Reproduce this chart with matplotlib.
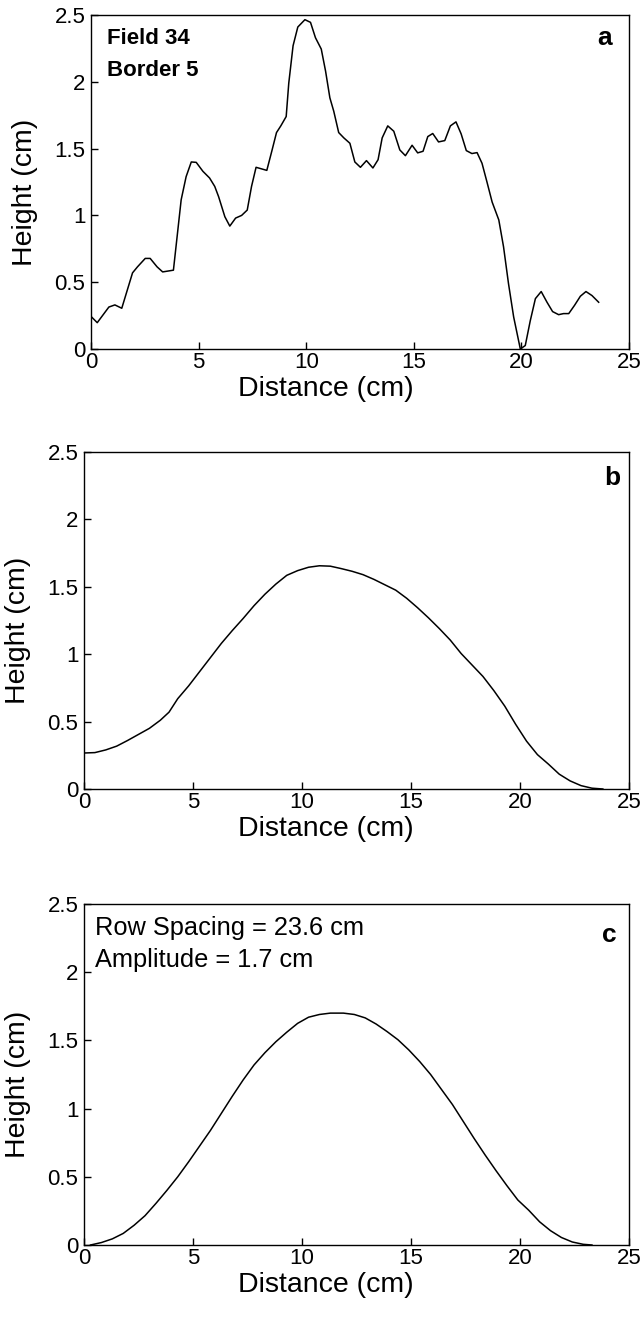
import matplotlib
matplotlib.use("Agg")
import matplotlib.pyplot as plt

plt.rcParams['font.family'] = ['Liberation Sans', 'DejaVu Sans']

# panel a: measured profile, Field 34, Border 5
dist_a = [0.0, 0.29, 0.83, 1.11, 1.43, 1.93, 2.16, 2.52, 2.75, 3.07, 3.33, 3.83,
          4.19, 4.42, 4.66, 4.89, 5.2, 5.51, 5.75, 5.93, 6.22, 6.45, 6.72, 7.0,
          7.26, 7.46, 7.67, 8.17, 8.4, 8.62, 8.82, 9.07, 9.19, 9.39, 9.61, 9.94,
          10.2, 10.43, 10.7, 10.9, 11.1, 11.28, 11.51, 11.75, 12.03, 12.26, 12.52,
          12.8, 13.1, 13.34, 13.53, 13.79, 14.07, 14.35, 14.61, 14.92, 15.18, 15.43,
          15.65, 15.88, 16.15, 16.44, 16.7, 16.96, 17.2, 17.44, 17.7, 17.94, 18.17,
          18.4, 18.64, 18.95, 19.17, 19.4, 19.64, 19.95, 20.18, 20.41, 20.65, 20.92,
          21.19, 21.45, 21.73, 21.96, 22.2, 22.47, 22.74, 23.0, 23.28, 23.59]
height_a = [0.244, 0.197, 0.314, 0.33, 0.305, 0.57, 0.615, 0.678, 0.678, 0.615, 0.577, 0.59,
            1.117, 1.29, 1.40, 1.397, 1.33, 1.28, 1.217, 1.14, 0.99, 0.92, 0.98, 1.0,
            1.04, 1.217, 1.36, 1.337, 1.48, 1.62, 1.67, 1.74, 1.99, 2.27, 2.41, 2.465,
            2.445, 2.33, 2.245, 2.08, 1.88, 1.78, 1.62, 1.58, 1.54, 1.40, 1.36,
            1.41, 1.355, 1.417, 1.58, 1.67, 1.63, 1.49, 1.447, 1.525, 1.468, 1.48,
            1.59, 1.613, 1.55, 1.56, 1.67, 1.70, 1.61, 1.485, 1.463, 1.47, 1.39,
            1.25, 1.10, 0.966, 0.765, 0.49, 0.24, 0.0, 0.026, 0.21, 0.377, 0.43,
            0.35, 0.28, 0.257, 0.265, 0.265, 0.327, 0.395, 0.43, 0.40, 0.35]

# panel b: smoothed profile
dist_b = [0.0, 0.5, 1.0, 1.5, 2.0, 2.5, 3.0, 3.5, 3.9, 4.3, 4.8, 5.3, 5.8, 6.3, 6.8,
          7.3, 7.8, 8.3, 8.8, 9.3, 9.8, 10.3, 10.8, 11.3, 11.8, 12.3, 12.8, 13.3,
          13.8, 14.3, 14.8, 15.3, 15.8, 16.3, 16.8, 17.3, 17.8, 18.3, 18.8, 19.3,
          19.8, 20.3, 20.8, 21.3, 21.8, 22.3, 22.8, 23.3, 23.8]
height_b = [0.267, 0.27, 0.29, 0.318, 0.36, 0.405, 0.45, 0.51, 0.57, 0.67, 0.765, 0.87,
            0.975, 1.08, 1.175, 1.265, 1.36, 1.445, 1.52, 1.585, 1.62, 1.645, 1.656,
            1.653, 1.635, 1.615, 1.59, 1.555, 1.515, 1.475, 1.415, 1.345, 1.27, 1.19,
            1.105, 1.005, 0.92, 0.835, 0.73, 0.615, 0.48, 0.355, 0.255, 0.185, 0.11,
            0.06, 0.025, 0.006, 0.0]

# panel c: fitted profile
dist_c = [0.3, 0.8, 1.3, 1.8, 2.3, 2.8, 3.3, 3.8, 4.3, 4.8, 5.3, 5.8, 6.3, 6.8, 7.3,
          7.8, 8.3, 8.8, 9.3, 9.8, 10.3, 10.8, 11.3, 11.9, 12.4, 12.9, 13.4, 13.9,
          14.4, 14.9, 15.4, 15.9, 16.4, 16.9, 17.4, 17.9, 18.4, 18.9, 19.4, 19.9,
          20.4, 20.9, 21.4, 21.9, 22.4, 22.9, 23.3]
height_c = [0.0, 0.018, 0.045, 0.085, 0.145, 0.215, 0.305, 0.40, 0.50, 0.61, 0.725,
            0.84, 0.965, 1.09, 1.21, 1.32, 1.41, 1.49, 1.56, 1.625, 1.67, 1.69, 1.70,
            1.70, 1.69, 1.665, 1.62, 1.565, 1.505, 1.43, 1.345, 1.25, 1.14, 1.03,
            0.905, 0.78, 0.66, 0.545, 0.435, 0.33, 0.255, 0.17, 0.105, 0.055, 0.022,
            0.005, 0.0]

x_ticks = [0, 5, 10, 15, 20, 25]
y_ticks = [0, 0.5, 1, 1.5, 2, 2.5]
y_tick_labels = ['0', '0.5', '1', '1.5', '2', '2.5']

fig = plt.figure(figsize=(6.4, 13.22), dpi=100)
W, H = 640.0, 1322.0
boxes = [(91, 629, 15, 349), (84, 629, 452, 789), (84, 629, 904, 1245)]
axes = []
for (l, r, t, b) in boxes:
    axes.append(fig.add_axes([l / W, (H - b) / H, (r - l) / W, (b - t) / H]))

series = [(dist_a, height_a), (dist_b, height_b), (dist_c, height_c)]
letters = ['a', 'b', 'c']
letter_pos = [(0.968, 0.931), (0.985, 0.923), (0.978, 0.909)]
xlab_x = [0.437, 0.444, 0.444]

for i, ax in enumerate(axes):
    xs, ys = series[i]
    ax.plot(xs, ys, color='black', lw=1.1)
    ax.set_xlim(0, 25)
    ax.set_ylim(0, 2.5)
    ax.set_xticks(x_ticks)
    ax.set_yticks(y_ticks)
    ax.set_yticklabels(y_tick_labels)
    ax.tick_params(direction='in', length=5, width=1, labelsize=16, pad=2)
    ax.tick_params(axis='y', pad=4)
    for sp in ax.spines.values():
        sp.set_linewidth(1.0)
    ax.set_xlabel('Distance (cm)', fontsize=20.5)
    ax.set_ylabel('Height (cm)', fontsize=20.5)
    ax.xaxis.set_label_coords(xlab_x[i], -0.08)
    ax.yaxis.set_label_coords(-0.098, 0.47)
    ax.text(letter_pos[i][0], letter_pos[i][1], letters[i], transform=ax.transAxes,
            ha='right', va='center', fontsize=19, fontweight='bold')

axes[0].text(0.03, 0.931, 'Field 34', transform=axes[0].transAxes,
             ha='left', va='center', fontsize=16, fontweight='bold')
axes[0].text(0.03, 0.835, 'Border 5', transform=axes[0].transAxes,
             ha='left', va='center', fontsize=16, fontweight='bold')
axes[2].text(0.02, 0.93, 'Row Spacing = 23.6 cm', transform=axes[2].transAxes,
             ha='left', va='center', fontsize=18.3)
axes[2].text(0.02, 0.836, 'Amplitude = 1.7 cm', transform=axes[2].transAxes,
             ha='left', va='center', fontsize=18.3)

fig.savefig('out.png', dpi=100)
